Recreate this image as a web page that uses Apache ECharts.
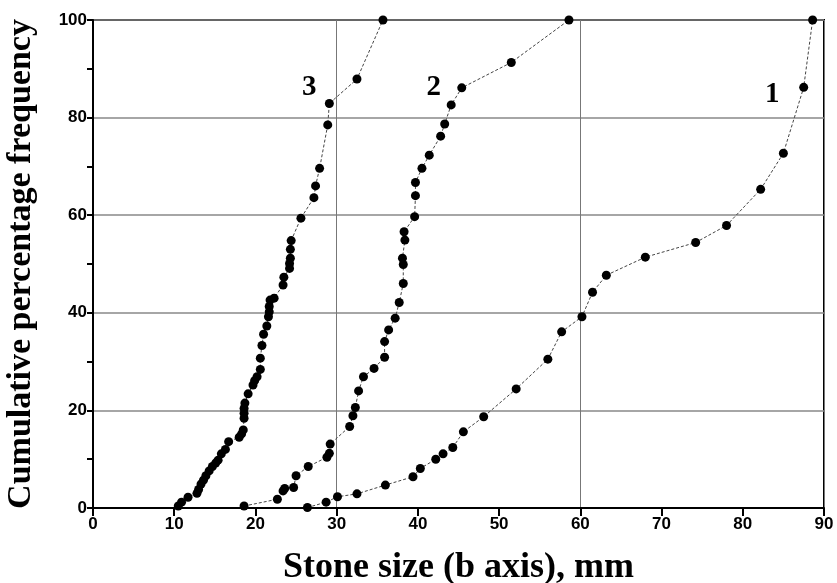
<!DOCTYPE html>
<html>
<head>
<meta charset="utf-8">
<script src="https://cdn.jsdelivr.net/npm/echarts@6/dist/echarts.min.js"></script>
<style>html,body{margin:0;padding:0;background:#fff}#c{width:837px;height:583px}</style>
</head>
<body>
<div id="c"></div>
<script>
// Curve 3 (finest)
const s3x = [10.5,10.9,11.7,12.8,13.0,13.3,13.6,13.9,14.3,14.7,15.1,15.4,15.8,16.3,16.7,18.0,18.3,18.5,18.6,18.6,18.6,18.7,19.1,19.7,19.9,20.2,20.6,20.6,20.8,21.0,21.4,21.6,21.7,21.7,21.8,22.3,23.4,23.5,24.2,24.2,24.3,24.3,24.4,25.6,27.2,27.4,27.9,28.9,29.1,32.5,35.7];
const s3y = [0.4,1.2,2.2,3.0,3.8,4.9,5.7,6.6,7.6,8.5,9.2,9.8,11.1,12.0,13.6,14.5,15.2,16.0,18.4,19.4,20.4,21.5,23.4,25.2,26.1,26.9,28.4,30.7,33.3,35.6,37.3,39.2,40.2,41.3,42.6,43.0,45.7,47.3,49.1,50.1,51.2,53.0,54.8,59.4,63.6,66.0,69.6,78.5,82.9,87.9,100];
// Curve 2
const s2x = [18.6,22.7,23.4,23.6,24.7,25.0,26.5,28.8,29.1,29.2,31.6,32.0,32.3,32.7,33.3,34.6,35.9,35.9,36.4,37.2,37.7,38.2,38.2,38.1,38.4,38.3,39.6,39.7,39.7,40.5,41.4,42.8,43.3,44.1,45.4,51.5,58.6];
const s2y = [0.4,1.8,3.5,4.0,4.2,6.6,8.5,10.4,11.2,13.1,16.7,18.9,20.6,24.0,26.9,28.6,30.9,34.1,36.5,38.9,42.1,46.0,49.9,51.2,54.9,56.6,59.7,64.0,66.7,69.6,72.3,76.2,78.7,82.6,86.1,91.3,100];
// Curve 1 (coarsest)
const s1x = [26.4,28.7,30.1,32.5,36.0,39.4,40.3,42.2,43.1,44.3,45.6,48.1,52.1,56.0,57.7,60.2,61.5,63.2,68.0,74.2,78.0,82.2,85.0,87.5,88.6];
const s1y = [0.1,1.2,2.3,2.9,4.7,6.4,8.1,10.0,11.1,12.4,15.6,18.7,24.4,30.5,36.1,39.2,44.2,47.7,51.4,54.4,57.9,65.3,72.7,86.2,100];
// Curve labels: [name, x, y]
const curveLabels = [['3', 26.7, 86.1], ['2', 42.0, 86.1], ['1', 83.7, 84.6]];

const xTitle = 'Stone size (b axis), mm';
const yTitle = 'Cumulative percentage frequency';

const zip = (xs, ys) => xs.map((x, i) => [x, ys[i]]);
const tickFont = {fontFamily: 'Liberation Sans', fontWeight: 'bold', fontSize: 17, color: '#000'};

function mkSeries(name, data) {
  return {
    name: name, type: 'line', data: data, xAxisIndex: 0, yAxisIndex: 0,
    symbol: 'circle', symbolSize: 9, itemStyle: {color: '#000'},
    lineStyle: {color: '#444', width: 1, type: [3, 2]},
    emphasis: {disabled: true},
    animation: false, z: 5
  };
}

const chart = echarts.init(document.getElementById('c'), null, {renderer: 'canvas'});
const series = [
  mkSeries('1', zip(s1x, s1y)),
  mkSeries('2', zip(s2x, s2y)),
  mkSeries('3', zip(s3x, s3y)),
  {
    type: 'scatter', data: curveLabels.map(l => ({value: [l[1], l[2]], name: l[0]})),
    symbolSize: 1, silent: true, itemStyle: {color: 'rgba(0,0,0,0)'},
    emphasis: {disabled: true},
    label: {show: true, position: [0, 0], align: 'center', verticalAlign: 'middle', formatter: p => p.name,
      fontFamily: 'Liberation Serif', fontWeight: 'bold', fontSize: 29, color: '#000', opacity: 1},
    z: 6
  }
];

chart.setOption({
  animation: false,
  backgroundColor: '#fff',
  grid: {left: 93, right: 13, top: 20, bottom: 75, containLabel: false, outerBoundsMode: 'none',
    show: true, borderColor: '#000', borderWidth: 2, backgroundColor: 'transparent'},
  xAxis: [{
    type: 'value', min: 0, max: 90, interval: 10,
    name: xTitle, nameLocation: 'middle', nameGap: 42,
    nameTextStyle: {fontFamily: 'Liberation Serif', fontWeight: 'bold', fontSize: 36, color: '#000'},
    axisLine: {show: true, lineStyle: {color: '#000', width: 2}},
    axisTick: {show: true, length: 8, lineStyle: {color: '#000', width: 2}},
    axisLabel: Object.assign({margin: 8}, tickFont),
    splitLine: {show: false}
  }, {
    type: 'value', min: 0, max: 90, interval: 30, position: 'bottom',
    axisLine: {show: false}, axisTick: {show: false}, axisLabel: {show: false},
    splitLine: {show: true, lineStyle: {color: '#777', width: 1}}
  }],
  yAxis: [{
    type: 'value', min: 0, max: 100, interval: 20,
    name: yTitle, nameLocation: 'middle', nameRotate: 90, nameGap: 55,
    nameTextStyle: {fontFamily: 'Liberation Serif', fontWeight: 'bold', fontSize: 34, color: '#000'},
    axisLine: {show: true, lineStyle: {color: '#000', width: 2}},
    axisTick: {show: true, length: 6, lineStyle: {color: '#000', width: 2}},
    minorTick: {show: true, splitNumber: 2, length: 6, lineStyle: {color: '#000', width: 2}},
    axisLabel: Object.assign({margin: 6}, tickFont),
    splitLine: {show: true, lineStyle: {color: '#888', width: 1.5}}
  }],
  series: series
});
</script>
</body>
</html>
